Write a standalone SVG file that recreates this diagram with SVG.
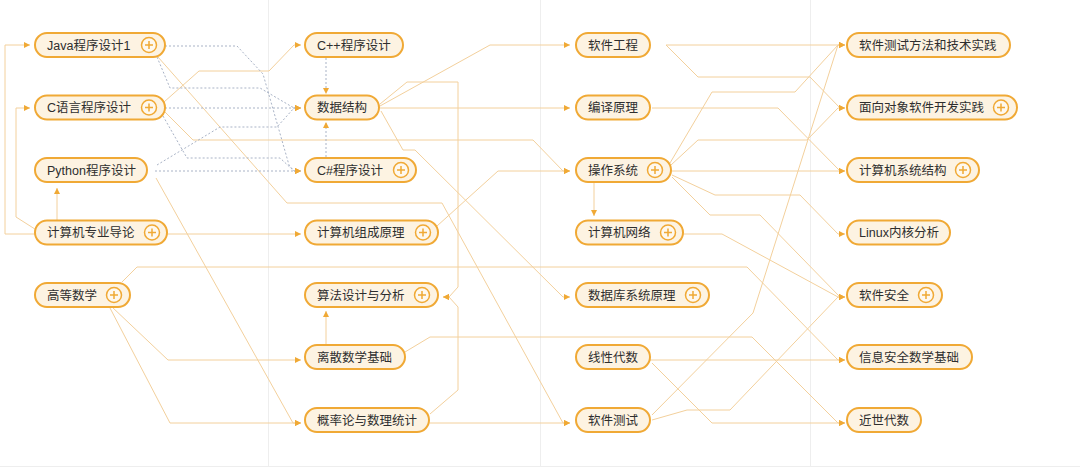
<svg xmlns="http://www.w3.org/2000/svg" xmlns:xlink="http://www.w3.org/1999/xlink" width="1080" height="468" viewBox="0 0 1080 468">
<style>
.bg{fill:#ffffff}
.sep{stroke:#eeeeee;stroke-width:1;fill:none}
.pill{fill:#fdf3e2;stroke:#f0a935;stroke-width:2}
.lbl{font-family:"Liberation Sans","Noto Sans CJK SC",sans-serif;font-size:12.5px;fill:#2e2e2e}
.pc{fill:#fef8ee;stroke:#f0a935;stroke-width:1.5}
.pp{stroke:#f0a935;stroke-width:1.5;fill:none}
.e{fill:none;stroke:#f3d09c;stroke-width:1;marker-end:url(#ah)}
.d{fill:none;stroke:#a9b3c6;stroke-width:1;stroke-dasharray:2 2;marker-end:url(#ah)}
</style>
<defs>
<marker id="ah" markerUnits="userSpaceOnUse" markerWidth="7" markerHeight="7" refX="6" refY="3" orient="auto">
<path d="M0,0 L6,3 L0,6 Z" fill="#f0a935"/>
</marker>
<g id="plus"><circle class="pc" r="7.5"/><path class="pp" d="M-4,0H4M0,-4V4"/></g>
</defs>
<rect class="bg" x="0" y="0" width="1080" height="468"/>
<g id="grid">
<path class="sep" d="M268.5,0V466M540.5,0V466M810.5,0V466M0,466.5H1080"/>
</g>
<g id="connectors">
<path class="e" d="M35,234 L5,234 L5,45 L30,45"/>
<path class="e" d="M38,231 L16,217 L16,108 L30,108"/>
<path class="e" d="M57,220 L57,188"/>
<path class="e" d="M167,234 L301,234"/>
<path class="e" d="M164,102 L199,71 L269,71 L294,45 L301,45"/>
<path class="e" d="M165,112 L193,140 L533,140 L563,171 L570,171"/>
<path class="e" d="M158,57 L287,203 L442,203 L563,423 L570,423"/>
<path class="e" d="M156,178 L293,423 L301,423"/>
<path class="e" d="M122,282 L137,267 L747,267 L838,360 L845,360"/>
<path class="e" d="M112,307 L168,360 L301,360"/>
<path class="e" d="M110,308 L170,423 L301,423"/>
<path class="e" d="M380,106 L490,45 L570,45"/>
<path class="e" d="M380,108 L570,108"/>
<path class="e" d="M381,111 L403,150 L415,150 L563,297 L570,297"/>
<path class="e" d="M380,104 L407,82 L458,82 L458,287 L449,297 L443,297"/>
<path class="e" d="M430,414 L458,390 L458,307 L449,297 L443,297"/>
<path class="e" d="M326,344 L326,311"/>
<path class="e" d="M405,352 L430,337 L752,337 L838,423 L845,423"/>
<path class="e" d="M430,423 L570,423"/>
<path class="e" d="M437,226 L498,171 L570,171"/>
<path class="e" d="M666,45 L845,45"/>
<path class="e" d="M666,45 L698,77 L810,77 L840,108 L845,108"/>
<path class="e" d="M652,108 L778,108 L840,171 L845,171"/>
<path class="e" d="M670,163 L712,92 L795,92 L838,45 L845,45"/>
<path class="e" d="M671,165 L698,140 L807,140 L838,108 L845,108"/>
<path class="e" d="M671,171 L845,171"/>
<path class="e" d="M672,175 L715,195 L800,195 L838,234 L845,234"/>
<path class="e" d="M672,177 L710,215 L760,215 L840,297 L845,297"/>
<path class="e" d="M594,183 L594,216"/>
<path class="e" d="M683,234 L722,234 L838,297 L845,297"/>
<path class="e" d="M650,360 L845,360"/>
<path class="e" d="M652,363 L712,423 L845,423"/>
<path class="e" d="M652,415 L753,313 L838,45 L845,45"/>
<path class="e" d="M652,420 L687,410 L730,410 L838,297 L845,297"/>
<path class="d" d="M326,58 L326,94"/>
<path class="d" d="M326,157 L326,122"/>
<path class="d" d="M165,46 L237,46 L263,74 L289,165 L294,171 L301,171"/>
<path class="d" d="M157,57 L170,88 L260,88 L294,108 L301,108"/>
<path class="d" d="M165,108 L301,108"/>
<path class="d" d="M163,116 L187,158 L280,158 L294,171 L301,171"/>
<path class="d" d="M155,171 L301,171"/>
<path class="d" d="M157,165 L220,127 L277,127 L294,108 L301,108"/>
</g>
<g id="java"><rect class="pill" x="35" y="33" width="130" height="24" rx="12"/><text class="lbl" x="47" y="49.5">Java程序设计1</text><use xlink:href="#plus" x="149" y="45"/></g>
<g id="c"><rect class="pill" x="35" y="95.5" width="130" height="24" rx="12"/><text class="lbl" x="47" y="112">C语言程序设计</text><use xlink:href="#plus" x="149" y="107.5"/></g>
<g id="python"><rect class="pill" x="35" y="158" width="112" height="24" rx="12"/><text class="lbl" x="47" y="174.5">Python程序设计</text></g>
<g id="intro"><rect class="pill" x="35" y="220.5" width="132" height="24" rx="12"/><text class="lbl" x="47" y="237">计算机专业导论</text><use xlink:href="#plus" x="152" y="232.5"/></g>
<g id="math"><rect class="pill" x="35" y="283" width="95" height="24" rx="12"/><text class="lbl" x="47" y="299.5">高等数学</text><use xlink:href="#plus" x="114" y="295"/></g>
<g id="cpp"><rect class="pill" x="305" y="33" width="98" height="24" rx="12"/><text class="lbl" x="317" y="49.5">C++程序设计</text></g>
<g id="ds"><rect class="pill" x="305" y="95.5" width="74" height="24" rx="12"/><text class="lbl" x="317" y="112">数据结构</text></g>
<g id="cs"><rect class="pill" x="305" y="158" width="111" height="24" rx="12"/><text class="lbl" x="317" y="174.5">C#程序设计</text><use xlink:href="#plus" x="401" y="170"/></g>
<g id="org"><rect class="pill" x="305" y="220.5" width="133" height="24" rx="12"/><text class="lbl" x="317" y="237">计算机组成原理</text><use xlink:href="#plus" x="423" y="232.5"/></g>
<g id="algo"><rect class="pill" x="305" y="283" width="133" height="24" rx="12"/><text class="lbl" x="317" y="299.5">算法设计与分析</text><use xlink:href="#plus" x="422" y="295"/></g>
<g id="disc"><rect class="pill" x="305" y="345" width="100" height="24" rx="12"/><text class="lbl" x="317" y="361.5">离散数学基础</text></g>
<g id="prob"><rect class="pill" x="305" y="408" width="124" height="24" rx="12"/><text class="lbl" x="317" y="424.5">概率论与数理统计</text></g>
<g id="se"><rect class="pill" x="576" y="33" width="74" height="24" rx="12"/><text class="lbl" x="588" y="49.5">软件工程</text></g>
<g id="comp"><rect class="pill" x="576" y="95.5" width="74" height="24" rx="12"/><text class="lbl" x="588" y="112">编译原理</text></g>
<g id="os"><rect class="pill" x="576" y="158" width="95" height="24" rx="12"/><text class="lbl" x="588" y="174.5">操作系统</text><use xlink:href="#plus" x="655" y="170"/></g>
<g id="net"><rect class="pill" x="576" y="220.5" width="107" height="24" rx="12"/><text class="lbl" x="588" y="237">计算机网络</text><use xlink:href="#plus" x="668" y="232.5"/></g>
<g id="db"><rect class="pill" x="576" y="283" width="133" height="24" rx="12"/><text class="lbl" x="588" y="299.5">数据库系统原理</text><use xlink:href="#plus" x="693" y="295"/></g>
<g id="la"><rect class="pill" x="576" y="345" width="74" height="24" rx="12"/><text class="lbl" x="588" y="361.5">线性代数</text></g>
<g id="st"><rect class="pill" x="576" y="408" width="74" height="24" rx="12"/><text class="lbl" x="588" y="424.5">软件测试</text></g>
<g id="stm"><rect class="pill" x="847" y="33" width="163" height="24" rx="12"/><text class="lbl" x="859" y="49.5">软件测试方法和技术实践</text></g>
<g id="oo"><rect class="pill" x="847" y="95.5" width="170" height="24" rx="12"/><text class="lbl" x="859" y="112">面向对象软件开发实践</text><use xlink:href="#plus" x="1001" y="107.5"/></g>
<g id="arch"><rect class="pill" x="847" y="158" width="132" height="24" rx="12"/><text class="lbl" x="859" y="174.5">计算机系统结构</text><use xlink:href="#plus" x="963" y="170"/></g>
<g id="linux"><rect class="pill" x="847" y="220.5" width="103" height="24" rx="12"/><text class="lbl" x="859" y="237">Linux内核分析</text></g>
<g id="sec"><rect class="pill" x="847" y="283" width="95" height="24" rx="12"/><text class="lbl" x="859" y="299.5">软件安全</text><use xlink:href="#plus" x="926" y="295"/></g>
<g id="infosec"><rect class="pill" x="847" y="345" width="125" height="24" rx="12"/><text class="lbl" x="859" y="361.5">信息安全数学基础</text></g>
<g id="alg"><rect class="pill" x="847" y="408" width="74" height="24" rx="12"/><text class="lbl" x="859" y="424.5">近世代数</text></g>
</svg>
